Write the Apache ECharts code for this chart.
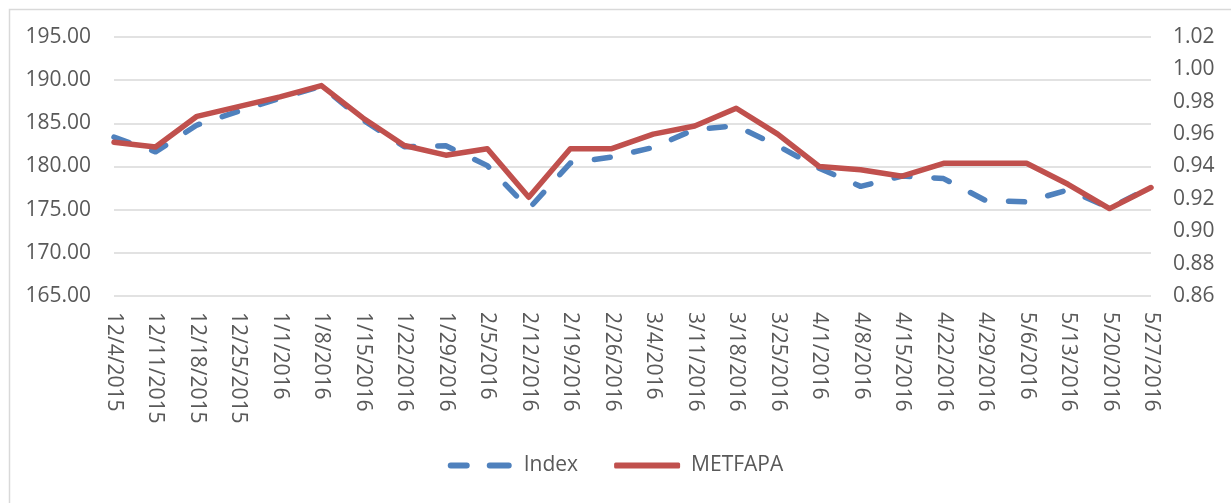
<!DOCTYPE html>
<html>
<head>
<meta charset="utf-8">
<script src="https://cdn.jsdelivr.net/npm/echarts@6/dist/echarts.min.js"></script>
<style>
html,body{margin:0;padding:0;background:#fff;}
#chart{width:1231px;height:503px;}
</style>
</head>
<body>
<div id="chart"></div>
<script>
var categories = ["12/4/2015","12/11/2015","12/18/2015","12/25/2015","1/1/2016","1/8/2016","1/15/2016","1/22/2016","1/29/2016","2/5/2016","2/12/2016","2/19/2016","2/26/2016","3/4/2016","3/11/2016","3/18/2016","3/25/2016","4/1/2016","4/8/2016","4/15/2016","4/22/2016","4/29/2016","5/6/2016","5/13/2016","5/20/2016","5/27/2016"];
var indexValues = [183.4,181.7,184.8,186.4,187.9,189.3,185.4,182.3,182.4,180.1,175.1,180.4,181.1,182.2,184.3,184.7,182.4,179.8,177.7,178.9,178.6,176.1,175.9,177.3,175.2,177.6];
var metfapaValues = [0.955,0.952,0.971,0.977,0.983,0.990,0.970,0.953,0.947,0.951,0.921,0.951,0.951,0.960,0.965,0.976,0.960,0.940,0.938,0.934,0.942,0.942,0.942,0.929,0.914,0.927];

var textColor = '#595959';
var font = 'Open Sans';
var chart = echarts.init(document.getElementById('chart'), null, {renderer:'canvas'});
chart.setOption({
  animation: false,
  textStyle: {fontFamily: font},
  graphic: [{
    type: 'rect', left: 7, top: 7, silent: true,
    shape: {x: 0, y: 0, width: 1250, height: 520},
    style: {fill: 'none', stroke: '#d9d9d9', lineWidth: 1.5}
  }],
  grid: {left: 114, right: 80, top: 37, bottom: 207, containLabel: false},
  legend: {
    bottom: 22, left: 'center',
    itemWidth: 66, itemHeight: 6, itemGap: 36,
    textStyle: {color: textColor, fontSize: 21, fontFamily: font, padding: [0,0,0,6]},
    data: [
      {name: 'Index', icon: 'path://M3,0h16a3,3 0 0 1 0,6h-16a3,3 0 0 1 0,-6z M42,0h19a3,3 0 0 1 0,6h-19a3,3 0 0 1 0,-6z'},
      {name: 'METFAPA', icon: 'roundRect'}
    ]
  },
  xAxis: {
    type: 'category', data: categories, boundaryGap: false,
    axisLine: {show: false}, axisTick: {show: false},
    axisLabel: {rotate: -90, interval: 0, margin: 16, color: textColor, fontSize: 21, fontFamily: font}
  },
  yAxis: [{
    type: 'value', min: 165, max: 195, interval: 5, position: 'left',
    axisLine: {show: false}, axisTick: {show: false},
    splitLine: {lineStyle: {color: '#d9d9d9', width: 1.5}},
    axisLabel: {margin: 23, color: textColor, fontSize: 21, fontFamily: font,
      formatter: function(v){return v.toFixed(2);}}
  },{
    type: 'value', min: 0.86, max: 1.02, interval: 0.02, position: 'right',
    axisLine: {show: false}, axisTick: {show: false}, splitLine: {show: false},
    axisLabel: {margin: 22, color: textColor, fontSize: 21, fontFamily: font,
      formatter: function(v){return v.toFixed(2);}}
  }],
  series: [{
    name: 'Index', type: 'line', yAxisIndex: 0, data: indexValues,
    symbol: 'none', color: '#4f81bd',
    lineStyle: {color: '#4f81bd', width: 5.5, type: [16, 24], cap: 'round', join: 'round'}
  },{
    name: 'METFAPA', type: 'line', yAxisIndex: 1, data: metfapaValues,
    symbol: 'none', color: '#c0504d',
    lineStyle: {color: '#c0504d', width: 5.5, cap: 'round', join: 'round'}
  }]
});
</script>
</body>
</html>
